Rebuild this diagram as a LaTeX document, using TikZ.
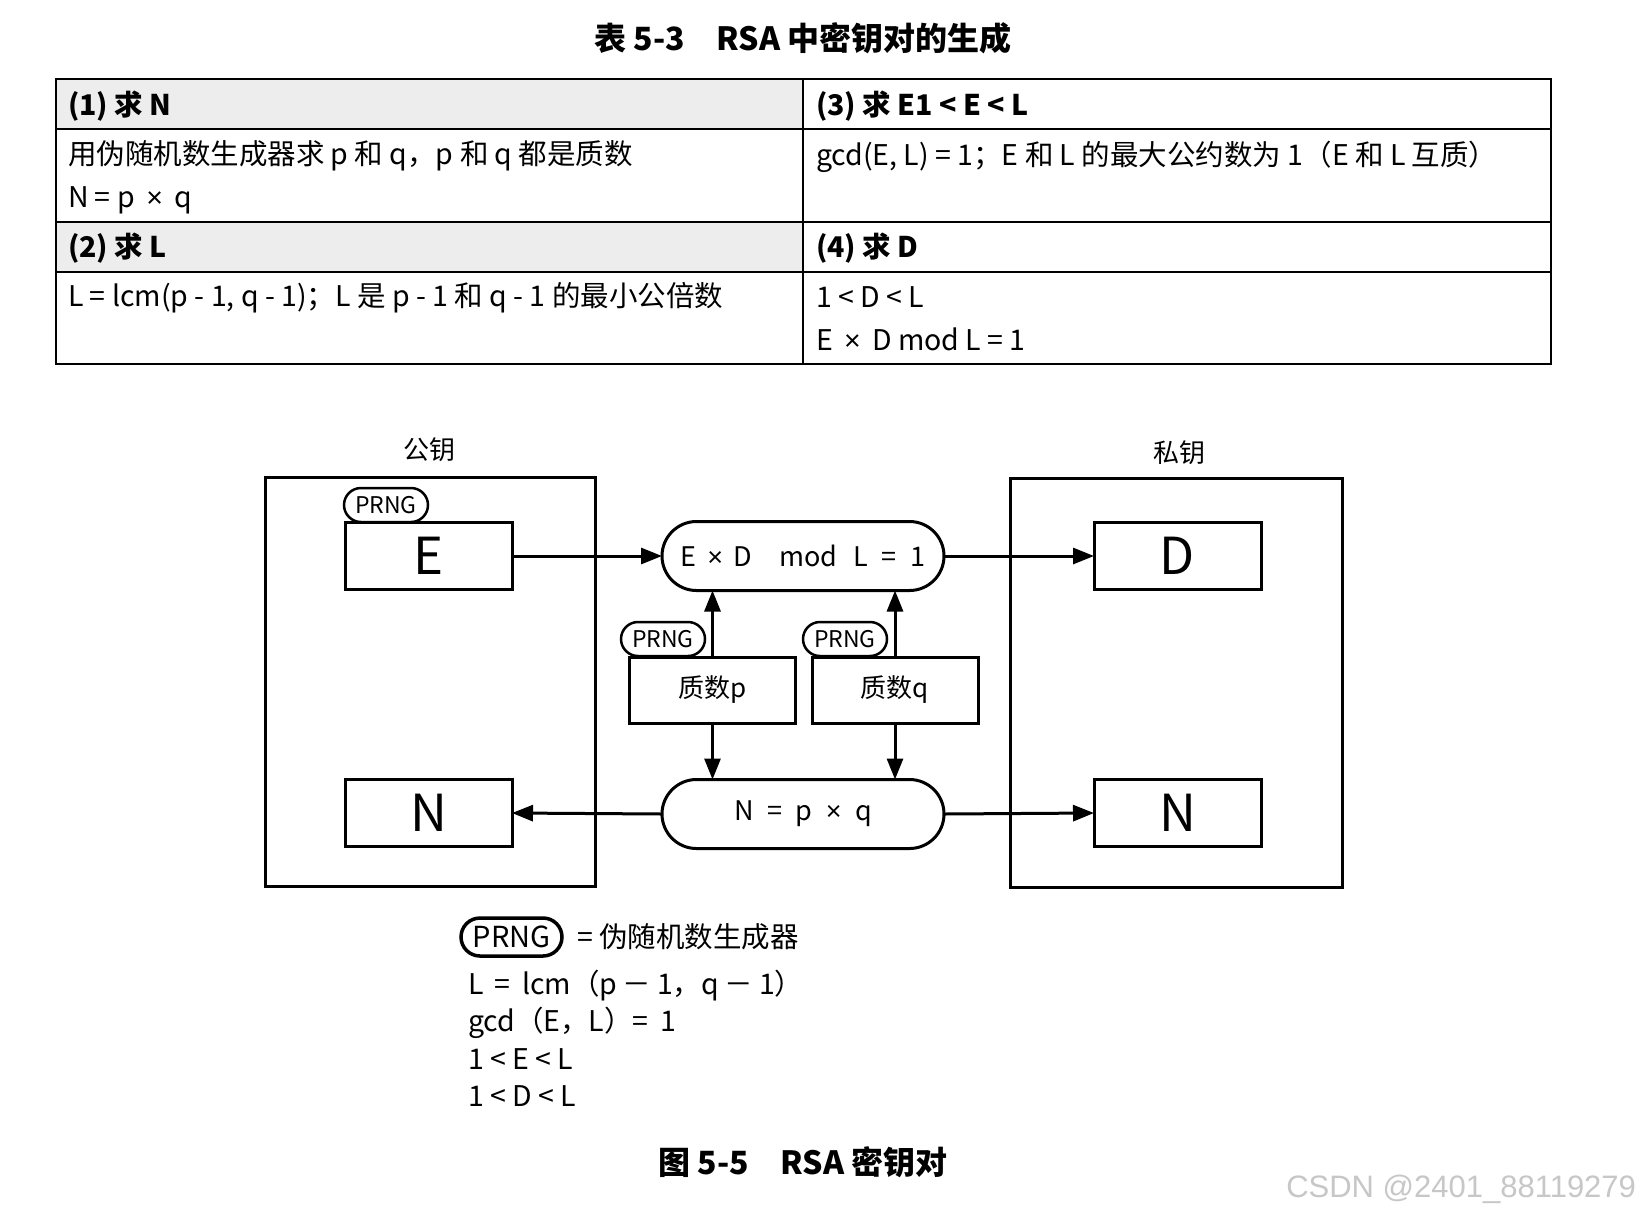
\documentclass[tikz,border=0pt]{standalone}
\usepackage{fontspec}
\setmainfont{Noto Sans CJK SC}
\newfontfamily\wmfont{Liberation Sans}
\usetikzlibrary{arrows.meta,shapes.misc}
\newcommand\fsz[1]{\fontsize{#1}{#1}\selectfont}
\newcommand\tms{{\wmfont ×}}
\begin{document}
\begin{tikzpicture}[x=1pt,y=-1pt,
  every node/.style={inner sep=0pt, outer sep=0pt},
  tline/.style={line width=2.2pt},
  bigbox/.style={draw, line width=3pt},
  keybox/.style={draw, line width=3pt, minimum width=167pt, minimum height=67pt, font=\fsz{51}},
  stad/.style={draw, rounded rectangle, line width=3pt, minimum width=282pt, minimum height=69pt, font=\fsz{27}, fill=white},
  primebox/.style={draw, line width=3pt, minimum width=166pt, minimum height=66pt, font=\fsz{26}},
  prng/.style={draw, rounded rectangle, line width=2.5pt, minimum width=84pt, minimum height=34pt, font=\fsz{23}, fill=white},
  cell/.style={anchor=west, font=\fsz{28.5}, text height=21pt, text depth=0pt},
  hcell/.style={cell, font=\bfseries\fsz{28.5}},
  arr/.style={line width=3pt, -{Triangle[length=21pt,width=16pt]}},
]
\useasboundingbox[fill=white] (0,0) rectangle (1640,1216);

% title
\node[font=\bfseries\fsz{32}] (title) at (803,38) {表 5-3\hspace{1em}RSA 中密钥对的生成};

% table
\fill[black!7] (56,79) rectangle (803,129);
\fill[black!7] (56,222) rectangle (803,272);
\draw[tline] (56,79) rectangle (1551,364);
\draw[tline] (803,79) -- (803,364);
\draw[tline] (56,129) -- (1551,129);
\draw[tline] (56,222) -- (1551,222);
\draw[tline] (56,272) -- (1551,272);

\node[hcell] (h1) at (68,105) {(1) 求 N};
\node[hcell] (h3) at (816,105) {(3) 求 E1 < E < L};
\node[cell] (c1a) at (68,154) {用伪随机数生成器求 p 和 q，p 和 q 都是质数};
\node[cell] (c1b) at (68,197) {N = p\hspace{0.4em}\tms\hspace{0.4em}q};
\node[cell] (c3) at (816,155) {gcd(E, L) = 1；E 和 L 的最大公约数为 1（E 和 L 互质）};
\node[hcell] (h2) at (68,247) {(2) 求 L};
\node[hcell] (h4) at (816,247) {(4) 求 D};
\node[cell] (c2) at (68,296) {L = lcm(p - 1, q - 1)；L 是 p - 1 和 q - 1 的最小公倍数};
\node[cell] (c4a) at (816,297) {1 < D < L};
\node[cell] (c4b) at (816,340) {E\hspace{0.4em}\tms\hspace{0.4em}D mod L = 1};

% big boxes
\node[font=\fsz{26}] (publbl) at (429,450) {公钥};
\node[font=\fsz{26}] (privlbl) at (1179,453) {私钥};
\draw[bigbox] (265,477) rectangle (595,886);
\draw[bigbox] (1010,478) rectangle (1342,887);

% key nodes
\node[keybox] (E) at (428.5,556) {E};
\node[keybox] (Nl) at (428.5,813) {N};
\node[keybox] (D) at (1177.5,556) {D};
\node[keybox] (Nr) at (1177.5,813) {N};
\node[stad] (top) at (803,556) {E\hspace{0.4em}\tms\hspace{0.4em}D\hspace{1em}mod\hspace{0.6em}L\hspace{0.5em}=\hspace{0.5em}1};
\node[stad] (bot) at (803,814) {N\hspace{0.5em}=\hspace{0.5em}p\hspace{0.5em}\tms\hspace{0.5em}q};
\node[primebox] (p) at (712.5,690) {质数p};
\node[primebox] (q) at (895,690) {质数q};

\node[prng] (prE) at (386,505) {PRNG};
\node[prng] (prp) at (663,639) {PRNG};
\node[prng] (prq) at (845,639) {PRNG};

% connectors
\draw[arr] (E.east) -- (top.west);
\draw[arr] (top.east) -- (D.west);
\draw[arr] (bot.west) -- (Nl.east);
\draw[arr] (bot.east) -- (Nr.west);
\draw[arr] (p.north) -- (p.north |- top.south);
\draw[arr] (q.north) -- (q.north |- top.south);
\draw[arr] (p.south) -- (p.south |- bot.north);
\draw[arr] (q.south) -- (q.south |- bot.north);

% legend
\node[prng, minimum width=101pt, minimum height=38pt, line width=3.5pt, font=\fsz{29}] (lp) at (511.5,937) {PRNG};
\node[cell] (ld) at (577,937) {= 伪随机数生成器};
\node[cell] (l1) at (468,984) {L\hspace{0.4em}=\hspace{0.4em}lcm（p\hspace{0.2em}－\hspace{0.2em}1，q\hspace{0.2em}－\hspace{0.2em}1）};
\node[cell] (l2) at (468,1021) {gcd（E，L）=\hspace{0.4em}1};
\node[cell] (l3) at (468,1059) {1 < E < L};
\node[cell] (l4) at (468,1096) {1 < D < L};

% caption
\node[font=\bfseries\fsz{32}] (cap) at (803,1162) {图 5-5\hspace{1em}RSA 密钥对};

% watermark
\node[anchor=east, font=\wmfont\fsz{31}, text=black!22] (wm) at (1636,1189) {CSDN @2401\_88119279};
\end{tikzpicture}
\end{document}
